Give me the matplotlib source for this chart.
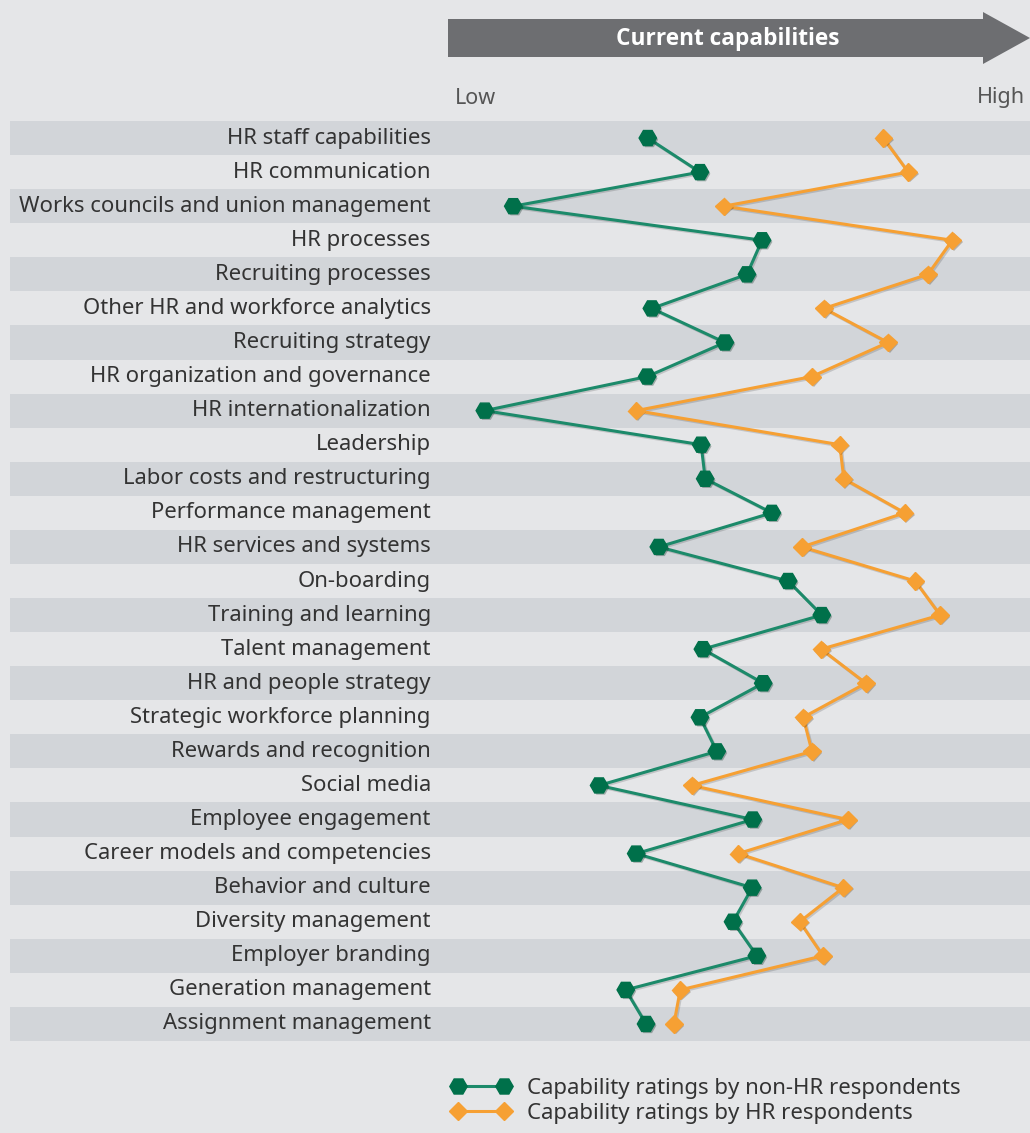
import matplotlib.pyplot as plt
from matplotlib.lines import Line2D
from matplotlib.patches import Polygon
import matplotlib.patheffects as pe

plt.rcParams['font.family'] = ['Noto Sans', 'DejaVu Sans']

categories = [
    "HR staff capabilities", "HR communication",
    "Works councils and union management", "HR processes",
    "Recruiting processes", "Other HR and workforce analytics",
    "Recruiting strategy", "HR organization and governance",
    "HR internationalization", "Leadership", "Labor costs and restructuring",
    "Performance management", "HR services and systems", "On-boarding",
    "Training and learning", "Talent management", "HR and people strategy",
    "Strategic workforce planning", "Rewards and recognition", "Social media",
    "Employee engagement", "Career models and competencies",
    "Behavior and culture", "Diversity management", "Employer branding",
    "Generation management", "Assignment management",
]
# scores on a 0 (low) .. 100 (high) scale
non_hr = [34.1, 43.1, 10.9, 53.8, 51.2, 34.8, 47.4, 34.0, 6.0, 43.3, 44.0,
          55.5, 36.0, 58.3, 64.1, 43.6, 54.0, 43.1, 46.0, 25.7, 52.2, 32.1,
          52.1, 48.8, 52.9, 30.3, 33.8]
hr = [74.7, 79.0, 47.2, 86.6, 82.4, 64.5, 75.5, 62.4, 32.1, 67.2, 67.9,
      78.4, 60.7, 80.2, 84.5, 64.0, 71.7, 60.9, 62.4, 41.7, 68.6, 49.7,
      67.8, 60.3, 64.3, 39.7, 38.6]
series_labels = ["Capability ratings by non-HR respondents",
                 "Capability ratings by HR respondents"]

bg = '#e5e6e8'
stripe = '#d2d5d9'
green = '#00704a'
green_line = '#1c8a6a'
orange = '#f6a033'
text_col = '#333333'

W, H = 1030, 1133
fig = plt.figure(figsize=(W / 100, H / 100), dpi=100, facecolor=bg)

# main axes spans the label column too; x=0 sits at pixel 450
ax = fig.add_axes([10 / W, 1 - 1041 / H, 1020 / W, 920 / H])
ax.set_facecolor(bg)
ax.set_xlim(-440 / 5.8, 100)
ax.set_ylim(len(categories) - 0.5, -0.5)
ax.axis('off')

for i, name in enumerate(categories):
    if i % 2 == 0:
        ax.axhspan(i - 0.5, i + 0.5, color=stripe, lw=0, zorder=0)
    ax.text(-3.3, i, name, ha='right', va='center', fontsize=15.9,
            color=text_col)

line_fx = [pe.SimpleLineShadow(offset=(1, -1), alpha=0.15), pe.Normal()]
mark_fx = [pe.SimplePatchShadow(offset=(1.2, -1.2), alpha=0.3), pe.Normal()]
rows = list(range(len(categories)))
ax.plot(non_hr, rows, color=green_line, lw=2.2, zorder=3, path_effects=line_fx)
ax.plot(non_hr, rows, ls='none', marker='H', ms=12.5, color=green, zorder=4,
        path_effects=mark_fx)
ax.plot(hr, rows, color=orange, lw=2.2, zorder=3, path_effects=line_fx)
ax.plot(hr, rows, ls='none', marker='D', ms=8.8, color=orange, zorder=4,
        path_effects=mark_fx)

# header arrow
hax = fig.add_axes([448 / W, 1 - 66 / H, 582 / W, 56 / H])
hax.set_xlim(448, 1030)
hax.set_ylim(66, 10)
hax.axis('off')
hax.add_patch(Polygon([(448, 19), (983, 19), (983, 12), (1030, 38),
                       (983, 64), (983, 57), (448, 57)],
                      closed=True, color='#6d6e71', lw=0))
hax.text(728, 39, "Current capabilities", ha='center', va='center',
         color='white', fontsize=16.3, fontweight='bold',
         family=['Open Sans', 'DejaVu Sans'])

fig.text(455 / W, 1 - 98 / H, "Low", ha='left', va='center', fontsize=15.5,
         color='#555555')
fig.text(1025 / W, 1 - 98 / H, "High", ha='right', va='center', fontsize=15.5,
         color='#555555')

handles = [
    Line2D([], [], color=green_line, lw=2.2, marker='H', ms=12.5,
           markerfacecolor=green, markeredgecolor=green),
    Line2D([], [], color=orange, lw=2.2, marker='D', ms=8.8,
           markerfacecolor=orange, markeredgecolor=orange),
]
fig.legend(handles, series_labels, loc='upper left',
           bbox_to_anchor=(451 / W, 1 - 1078 / H), frameon=False,
           numpoints=2, handlelength=2.67, handletextpad=0.73,
           labelspacing=0.19, fontsize=16, labelcolor=text_col,
           borderaxespad=0, borderpad=0)

fig.savefig('out.png', dpi=100, facecolor=bg)
